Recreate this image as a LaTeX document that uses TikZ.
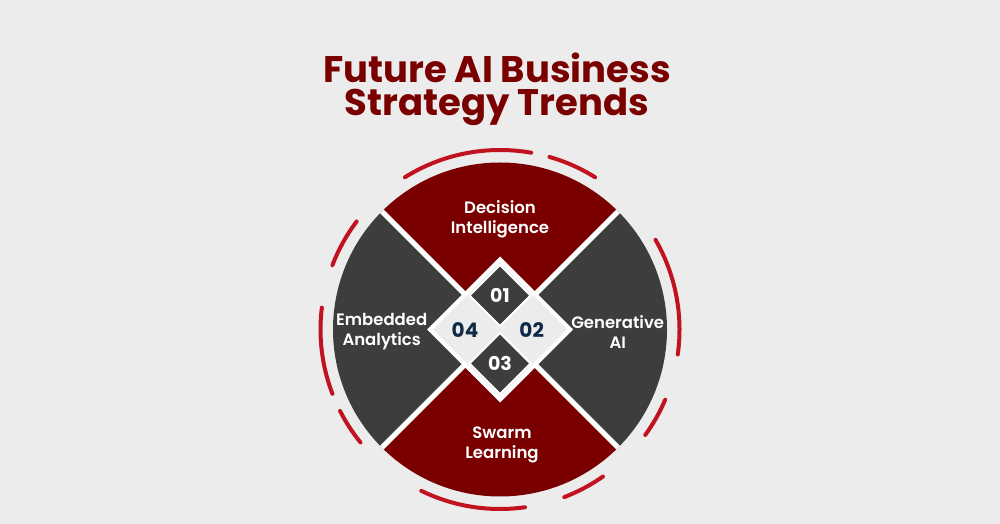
\documentclass[tikz,border=0pt]{standalone}
\usepackage{fontspec}
\setmainfont{Poppins}
\newfontfamily\semibold{Poppins SemiBold}
\usetikzlibrary{shapes.geometric}
\definecolor{bgcol}{HTML}{ECECEC}
\definecolor{segred}{HTML}{7A0000}
\definecolor{segdark}{HTML}{3D3D3D}
\definecolor{ringred}{HTML}{C1121F}
\definecolor{navy}{HTML}{0E2A47}

\begin{document}
\begin{tikzpicture}[x=1pt, y=1pt,
    ring/.style={draw=ringred, line width=4pt, line cap=round},
    gap/.style={draw=white, line width=5pt},
    hub/.style={diamond, aspect=1, fill=bgcol, draw=white, line width=4pt, minimum size=142, inner sep=0},
    tile/.style={diamond, aspect=1, fill=segdark, draw=white, line width=2pt, minimum size=62, inner sep=0, text=white, font=\bfseries\fontsize{19}{19}\selectfont},
    num/.style={text=navy, inner sep=0, font=\bfseries\fontsize{20}{20}\selectfont},
    tag/.style={text=white, align=center, inner sep=0, font=\semibold\fontsize{16.5}{20}\selectfont}]
  \useasboundingbox (0, 0) rectangle (1000, 524);
  \fill [bgcol] (0, 0) rectangle (1000, 524);
  \coordinate (C) at (500, 194.5);
  \node [text=segred, align=center, inner sep=0, font=\bfseries\fontsize{37}{33}\selectfont] (title) at (497, 435) {Future AI Business\\Strategy Trends};
  \fill [segred] (C) -- ++(45:167) arc [start angle=45, end angle=135, radius=167] -- cycle;
  \fill [segdark] (C) -- ++(135:167) arc [start angle=135, end angle=225, radius=167] -- cycle;
  \fill [segred] (C) -- ++(225:167) arc [start angle=225, end angle=315, radius=167] -- cycle;
  \fill [segdark] (C) -- ++(315:167) arc [start angle=315, end angle=405, radius=167] -- cycle;
  \path (C) ++(45:167) coordinate (ne) (C) ++(135:167) coordinate (nw)
    (C) ++(225:167) coordinate (sw) (C) ++(315:167) coordinate (se);
  \draw [gap] (ne) -- (sw);
  \draw [gap] (nw) -- (se);
  \foreach \a/\b in {80/122, 58/74, -8/30, -36/-23, -69/-55, -116/-82, 207/219, 173/201, 143/159}
    \draw [ring] (C) ++(\a:179.5) arc [start angle=\a, end angle=\b, radius=179.5];
  \node [hub] (hub) at (C) {};
  \node [tile] (t01) at (500, 228.5) {01};
  \node [tile] (t03) at (500, 160.5) {03};
  \node [num] (n02) at (531.7, 194) {02};
  \node [num] (n04) at (465, 194) {04};
  \node [tag] (decision) at (500, 304.5) {Decision\\Intelligence};
  \node [tag] (generative) at (617.7, 192) {Generative\\AI};
  \node [tag] (embedded) at (381.7, 192) {Embedded\\Analytics};
  \node [tag] (swarm) at (502, 79) {Swarm\\Learning};
\end{tikzpicture}
\end{document}
